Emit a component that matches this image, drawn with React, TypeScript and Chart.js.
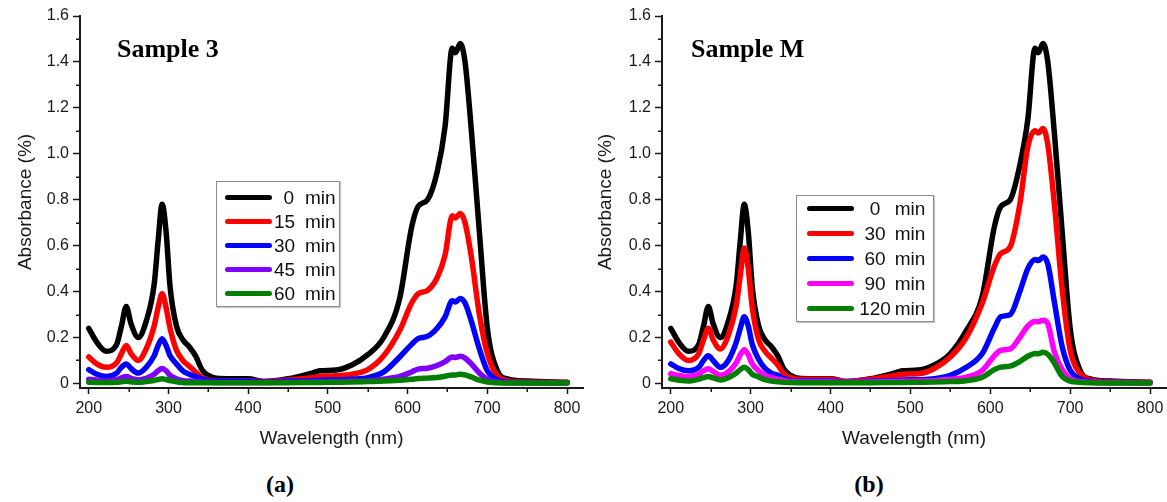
import React, { useEffect, useRef } from 'react';
import { Chart, registerables } from 'chart.js';

Chart.register(...registerables);

// ---------- data ----------
const wavelength = [
  200, 210, 222, 235, 241, 247, 253, 262, 272, 282,
  287, 292, 297, 302, 310, 318, 326, 334, 342, 350,
  360, 380, 400, 420, 450, 480, 490, 510, 530, 550,
  570, 590, 605, 613, 625, 637, 647, 656, 660, 666,
  672, 680, 690, 700, 712, 725, 750, 800,
];

// Sample 3
const s3Min0 = [
  0.24, 0.18, 0.14, 0.17, 0.25, 0.335, 0.26, 0.2, 0.27, 0.43,
  0.62, 0.78, 0.66, 0.42, 0.25, 0.19, 0.16, 0.12, 0.06, 0.035,
  0.022, 0.02, 0.02, 0.008, 0.02, 0.045, 0.055, 0.058, 0.08, 0.125,
  0.2, 0.37, 0.68, 0.77, 0.8, 0.92, 1.12, 1.46, 1.44, 1.48,
  1.4, 1.1, 0.66, 0.24, 0.06, 0.02, 0.01, 0.005,
];
const s3Min15 = [
  0.115, 0.085, 0.07, 0.09, 0.13, 0.165, 0.13, 0.1, 0.15, 0.25,
  0.33, 0.39, 0.33, 0.24, 0.145, 0.1, 0.075, 0.05, 0.025, 0.015,
  0.012, 0.012, 0.012, 0.008, 0.015, 0.025, 0.03, 0.033, 0.04, 0.06,
  0.12, 0.23, 0.35, 0.39, 0.405, 0.46, 0.56, 0.73, 0.72, 0.74,
  0.7, 0.55, 0.3, 0.13, 0.035, 0.012, 0.006, 0.004,
];
const s3Min30 = [
  0.06, 0.04, 0.03, 0.045, 0.07, 0.085, 0.065, 0.045, 0.07, 0.12,
  0.165, 0.195, 0.165, 0.12, 0.085, 0.055, 0.04, 0.03, 0.02, 0.012,
  0.01, 0.01, 0.01, 0.006, 0.01, 0.012, 0.014, 0.015, 0.018, 0.025,
  0.05, 0.115, 0.17, 0.195, 0.205, 0.24, 0.29, 0.36, 0.355, 0.37,
  0.35, 0.27, 0.15, 0.055, 0.015, 0.006, 0.004, 0.003,
];
const s3Min45 = [
  0.018, 0.014, 0.012, 0.016, 0.024, 0.03, 0.022, 0.015, 0.022, 0.04,
  0.055, 0.065, 0.055, 0.035, 0.02, 0.012, 0.01, 0.008, 0.006, 0.005,
  0.004, 0.004, 0.004, 0.004, 0.005, 0.006, 0.007, 0.008, 0.01, 0.012,
  0.018, 0.03, 0.05, 0.062, 0.066, 0.078, 0.095, 0.115, 0.113, 0.118,
  0.11, 0.085, 0.045, 0.017, 0.006, 0.004, 0.003, 0.002,
];
const s3Min60 = [
  0.005, 0.004, 0.004, 0.005, 0.007, 0.009, 0.007, 0.005, 0.008, 0.013,
  0.017, 0.02, 0.017, 0.012, 0.007, 0.004, 0.003, 0.003, 0.003, 0.003,
  0.003, 0.003, 0.003, 0.003, 0.003, 0.004, 0.004, 0.005, 0.006, 0.008,
  0.01, 0.014, 0.018, 0.021, 0.023, 0.026, 0.031, 0.037, 0.037, 0.04,
  0.037, 0.028, 0.014, 0.006, 0.003, 0.002, 0.002, 0.002,
];

// Sample M
const mMin0 = [
  0.24, 0.18, 0.14, 0.17, 0.25, 0.335, 0.26, 0.2, 0.27, 0.43,
  0.62, 0.78, 0.66, 0.42, 0.25, 0.19, 0.16, 0.12, 0.06, 0.035,
  0.022, 0.02, 0.02, 0.008, 0.02, 0.045, 0.055, 0.058, 0.08, 0.13,
  0.23, 0.38, 0.68, 0.77, 0.8, 0.95, 1.15, 1.46, 1.44, 1.48,
  1.4, 1.1, 0.66, 0.24, 0.06, 0.02, 0.01, 0.005,
];
const mMin30 = [
  0.18, 0.13, 0.1, 0.13, 0.19, 0.24, 0.19, 0.15, 0.21, 0.34,
  0.47, 0.59, 0.5, 0.33, 0.19, 0.14, 0.11, 0.08, 0.04, 0.025,
  0.018, 0.018, 0.018, 0.008, 0.018, 0.035, 0.04, 0.042, 0.065, 0.115,
  0.2, 0.35, 0.51, 0.565, 0.595, 0.78, 1.03, 1.1, 1.09, 1.11,
  1.04, 0.79, 0.41, 0.145, 0.045, 0.015, 0.008, 0.005,
];
const mMin60 = [
  0.085, 0.065, 0.055, 0.07, 0.1, 0.12, 0.1, 0.07, 0.1, 0.18,
  0.24, 0.29, 0.25, 0.17, 0.105, 0.065, 0.045, 0.035, 0.02, 0.013,
  0.01, 0.01, 0.01, 0.006, 0.01, 0.013, 0.015, 0.016, 0.02, 0.035,
  0.07, 0.13, 0.24, 0.29, 0.3, 0.4, 0.5, 0.54, 0.535, 0.55,
  0.52, 0.36, 0.16, 0.057, 0.02, 0.008, 0.005, 0.003,
];
const mMin90 = [
  0.042, 0.035, 0.03, 0.04, 0.055, 0.064, 0.052, 0.035, 0.05, 0.09,
  0.125, 0.147, 0.125, 0.085, 0.055, 0.035, 0.025, 0.018, 0.012, 0.008,
  0.006, 0.006, 0.006, 0.005, 0.006, 0.008, 0.009, 0.01, 0.012, 0.018,
  0.027, 0.057, 0.12, 0.144, 0.15, 0.2, 0.25, 0.27, 0.268, 0.275,
  0.26, 0.14, 0.06, 0.02, 0.008, 0.005, 0.003, 0.002,
];
const mMin120 = [
  0.02, 0.014, 0.01, 0.018, 0.025, 0.03, 0.024, 0.015, 0.025, 0.045,
  0.06, 0.07, 0.06, 0.04, 0.028, 0.016, 0.01, 0.007, 0.005, 0.004,
  0.003, 0.003, 0.003, 0.003, 0.003, 0.004, 0.004, 0.005, 0.006, 0.008,
  0.012, 0.027, 0.06, 0.071, 0.075, 0.095, 0.118, 0.13, 0.129, 0.136,
  0.127, 0.09, 0.03, 0.01, 0.005, 0.003, 0.002, 0.002,
];

const s3Times = ['0', '15', '30', '45', '60'];
const s3Colors = ['#000000', '#ff0000', '#0000ff', '#7f00ff', '#007f00'];
const mTimes = ['0', '30', '60', '90', '120'];
const mColors = ['#000000', '#ff0000', '#0000ff', '#ff00ff', '#007f00'];

const xMajorTicks = [200, 300, 400, 500, 600, 700, 800];
const xMinorTicks = [250, 350, 450, 550, 650, 750];
const yMajorTicks = [0, 0.2, 0.4, 0.6, 0.8, 1.0, 1.2, 1.4, 1.6];
const yMinorTicks = [0.1, 0.3, 0.5, 0.7, 0.9, 1.1, 1.3, 1.5];

const AXIS = '#1a1a1a';
const SANS = "'Liberation Sans', Arial, sans-serif";
const SERIF = "'Liberation Serif', 'Times New Roman', serif";

const minorTicksPlugin = {
  id: 'minorTicks',
  afterDraw(chart: any) {
    const { ctx, chartArea, scales } = chart;
    ctx.save();
    ctx.strokeStyle = AXIS;
    ctx.lineWidth = 1.5;
    ctx.beginPath();
    for (const v of xMinorTicks) {
      const px = Math.round(scales.x.getPixelForValue(v)) + 0.25;
      ctx.moveTo(px, chartArea.bottom);
      ctx.lineTo(px, chartArea.bottom + 4);
    }
    for (const v of yMinorTicks) {
      const py = Math.round(scales.y.getPixelForValue(v)) + 0.25;
      ctx.moveTo(chartArea.left, py);
      ctx.lineTo(chartArea.left - 4, py);
    }
    ctx.stroke();
    ctx.restore();
  },
};

type PanelProps = {
  left: number;
  width: number;
  height: number;
  yAxisWidth: number;
  rightPad: number;
  series: number[][];
  colors: string[];
  times: string[];
};

function SpectrumChart({ left, width, height, yAxisWidth, rightPad, series, colors, times }: PanelProps) {
  const ref = useRef<HTMLCanvasElement | null>(null);
  useEffect(() => {
    if (!ref.current) return;
    const datasets = series.map((vals, i) => ({
      label: times[i] + ' min',
      data: wavelength.map((w, k) => ({ x: w, y: vals[k] })),
      borderColor: colors[i],
      backgroundColor: colors[i],
      borderWidth: 5.5,
      pointRadius: 0,
      fill: false,
      cubicInterpolationMode: 'monotone' as const,
      borderCapStyle: 'round' as const,
      borderJoinStyle: 'round' as const,
      order: series.length - i,
    }));
    const chart = new Chart(ref.current, {
      type: 'line',
      data: { datasets },
      plugins: [minorTicksPlugin],
      options: {
        responsive: false,
        animation: false,
        events: [],
        layout: { padding: { left: 0, top: 16, right: rightPad, bottom: 0 } },
        plugins: { legend: { display: false }, tooltip: { enabled: false } },
        scales: {
          x: {
            type: 'linear',
            bounds: 'data',
            min: 189,
            max: 820,
            afterBuildTicks: (s: any) => {
              s.ticks = xMajorTicks.map((v) => ({ value: v }));
            },
            ticks: {
              autoSkip: false,
              maxRotation: 0,
              padding: 5,
              color: '#1a1a1a',
              font: { family: SANS, size: 16 },
              callback: (v: any) => String(v),
            },
            grid: {
              display: true,
              drawOnChartArea: false,
              drawTicks: true,
              tickLength: 6,
              tickWidth: 1.5,
              tickColor: AXIS,
            },
            border: { display: true, color: AXIS, width: 2 },
            title: {
              display: true,
              text: 'Wavelength (nm)',
              color: '#1a1a1a',
              font: { family: SANS, size: 19 },
              padding: { top: 0, bottom: 15 },
            },
            afterFit: (s: any) => {
              s.height = height - 388;
              s.paddingLeft = 0;
              s.paddingRight = 0;
            },
          },
          y: {
            type: 'linear',
            bounds: 'data',
            min: -0.02,
            max: 1.6,
            afterBuildTicks: (s: any) => {
              s.ticks = yMajorTicks.map((v) => ({ value: v }));
            },
            ticks: {
              autoSkip: false,
              padding: 4,
              color: '#1a1a1a',
              font: { family: SANS, size: 16 },
              callback: (v: any) => (Number(v) === 0 ? '0' : Number(v).toFixed(1)),
            },
            grid: {
              display: true,
              drawOnChartArea: false,
              drawTicks: true,
              tickLength: 7,
              tickWidth: 1.5,
              tickColor: AXIS,
            },
            border: { display: true, color: AXIS, width: 2 },
            title: {
              display: true,
              text: 'Absorbance (%)',
              color: '#1a1a1a',
              font: { family: SANS, size: 19 },
              padding: { top: 14, bottom: 0 },
            },
            afterFit: (s: any) => {
              s.width = yAxisWidth;
              s.paddingTop = 0;
              s.paddingBottom = 0;
            },
          },
        },
      },
    } as any);
    return () => chart.destroy();
  }, []);
  return (
    <canvas
      ref={ref}
      width={width}
      height={height}
      style={{ position: 'absolute', left, top: 0, width, height }}
    />
  );
}

type LegendProps = {
  left: number;
  top: number;
  width: number;
  height: number;
  rowH: number;
  padTop: number;
  lineLeft: number;
  lineW: number;
  numLeft: number;
  numW: number;
  numAlign: 'right' | 'center';
  gap: number;
  fontSize: number;
  times: string[];
  colors: string[];
};

function Legend(p: LegendProps) {
  return (
    <div
      style={{
        position: 'absolute',
        left: p.left,
        top: p.top,
        width: p.width,
        height: p.height,
        boxSizing: 'border-box',
        border: '1px solid #8c8c8c',
        boxShadow: '1px 1px 1px #c8c8c8',
        background: '#fff',
        paddingTop: p.padTop,
        fontFamily: SANS,
        fontSize: p.fontSize,
        color: '#111',
        lineHeight: 1,
      }}
    >
      {p.times.map((t, i) => (
        <div key={i} style={{ display: 'flex', alignItems: 'center', height: p.rowH, whiteSpace: 'nowrap' }}>
          <span
            style={{
              display: 'inline-block',
              marginLeft: p.lineLeft,
              width: p.lineW,
              height: 5,
              borderRadius: 3,
              background: p.colors[i],
            }}
          />
          <span style={{ display: 'inline-block', marginLeft: p.numLeft, width: p.numW, textAlign: p.numAlign }}>{t}</span>
          <span style={{ display: 'inline-block', marginLeft: p.gap }}>min</span>
        </div>
      ))}
    </div>
  );
}

const titleStyle = (left: number): React.CSSProperties => ({
  position: 'absolute',
  left,
  top: 36,
  fontFamily: SERIF,
  fontWeight: 'bold',
  fontSize: 26,
  lineHeight: '26px',
  color: '#000',
  whiteSpace: 'nowrap',
});

const captionStyle = (center: number): React.CSSProperties => ({
  position: 'absolute',
  left: center - 60,
  width: 120,
  top: 472,
  textAlign: 'center',
  fontFamily: SERIF,
  fontWeight: 'bold',
  fontSize: 24,
  lineHeight: '24px',
  color: '#000',
});

export default function App() {
  return (
    <div
      style={{
        position: 'absolute',
        left: 0,
        top: 0,
        width: 1167,
        height: 502,
        background: '#fff',
        overflow: 'hidden',
      }}
    >
      <SpectrumChart
        left={0}
        width={590}
        height={465}
        yAxisWidth={80}
        rightPad={7}
        series={[s3Min0, s3Min15, s3Min30, s3Min45, s3Min60]}
        colors={s3Colors}
        times={s3Times}
      />
      <SpectrumChart
        left={580}
        width={587}
        height={465}
        yAxisWidth={82}
        rightPad={1}
        series={[mMin0, mMin30, mMin60, mMin90, mMin120]}
        colors={mColors}
        times={mTimes}
      />
      <div style={titleStyle(117)}>Sample 3</div>
      <div style={titleStyle(691)}>Sample M</div>
      <Legend
        left={216}
        top={181}
        width={124}
        height={126}
        rowH={24}
        padTop={3.5}
        lineLeft={8}
        lineW={47}
        numLeft={2}
        numW={20}
        numAlign="right"
        gap={11}
        fontSize={19}
        times={s3Times}
        colors={s3Colors}
      />
      <Legend
        left={796}
        top={195}
        width={138}
        height={127}
        rowH={25}
        padTop={0}
        lineLeft={9.7}
        lineW={47}
        numLeft={4.3}
        numW={34}
        numAlign="center"
        gap={2.8}
        fontSize={19}
        times={mTimes}
        colors={mColors}
      />
      <div style={captionStyle(280)}>(a)</div>
      <div style={captionStyle(869)}>(b)</div>
    </div>
  );
}
